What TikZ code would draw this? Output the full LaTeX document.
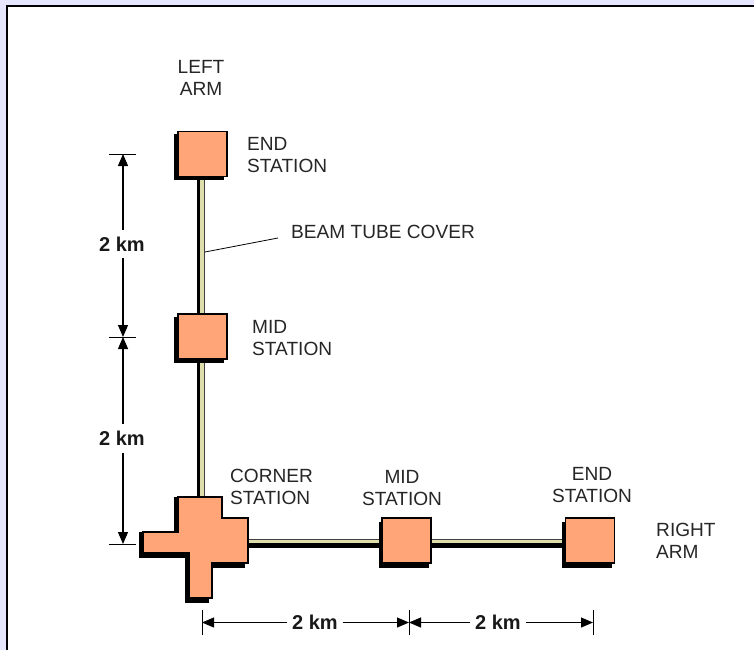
\documentclass[tikz,border=0pt]{standalone}
\usepackage{fontspec}
\setmainfont{Liberation Sans}
\usetikzlibrary{arrows.meta,backgrounds}
\definecolor{pagebg}{RGB}{230,230,255}
\definecolor{salmon}{RGB}{255,165,120}
\definecolor{tube}{RGB}{222,222,170}
\tikzset{
 x=1pt,y=-1pt,
 station/.style={draw=black,line width=1.2pt,fill=salmon,minimum width=49pt,minimum height=45pt,inner sep=0pt,outer sep=0pt},
 shadowbox/.style={fill=black,draw=black,line width=1pt,minimum width=49pt,minimum height=45pt,inner sep=0pt,outer sep=0pt},
 lbl/.style={font=\fontsize{19.1}{22}\selectfont,align=left,text=black!85,inner sep=0pt},
 dimlbl/.style={font=\fontsize{20}{20}\selectfont\bfseries,inner sep=0pt,text=black!90},
 vgap/.style={minimum height=28pt},
 hgap/.style={minimum width=55pt},
 dimline/.style={line width=1.1pt,-{Triangle[length=12pt,width=10pt]}},
 tick/.style={line width=1pt},
 crossoutline/.pic={\path[pic actions] (178,497) -- (222,497) -- (222,518) -- (248,518) -- (248,563) -- (212,563) -- (212,598) -- (189,598) -- (189,553) -- (143,553) -- (143,532) -- (178,532) -- cycle;},
}
\begin{document}
\begin{tikzpicture}
\useasboundingbox (0,0) rectangle (754,650);
\begin{scope}[on background layer]
\fill[pagebg] (0,0) rectangle (754,650);
\fill[white] (6,5) rectangle (754,650);
\draw[black,line width=2pt] (7,650) -- (7,6) -- (754,6);
\end{scope}
% stations
\foreach \n/\cx/\cy/\sx/\sy in {a/202.5/154/-4/3,b/202.5/336.5/-4/3,c/406.5/540.5/-3/4,d/590/540.5/-3/4}{
 \node[shadowbox] at (\cx+\sx,\cy+\sy) {};
 \node[station] (\n) at (\cx,\cy) {};
}
% corner station
\foreach \dy in {0.5,2,4}{
 \pic[fill=black,draw=black,line width=1pt] at (-3.5,\dy) {crossoutline};
}
\pic[fill=salmon,draw=black,line width=1.2pt] at (0,0) {crossoutline};
\coordinate (corner) at (225,530);
% beam tubes, under the stations
\coordinate (vt) at ([xshift=-2.5pt]a.center);
\coordinate (vb) at (vt |- corner);
\coordinate (hl) at (corner |- d.center);
\begin{scope}[on background layer]
 \draw[black,line width=3.5pt] ([xshift=-1.2pt]vt) -- ([xshift=-1.2pt]vb);
 \draw[tube,line width=3.8pt] ([xshift=2.2pt]vt) -- ([xshift=2.2pt]vb);
 \draw[black!75,line width=0.8pt] ([xshift=4.3pt]vt) -- ([xshift=4.3pt]vb);
 \draw[black,line width=4.8pt] ([yshift=-5pt]hl) -- ([yshift=-5pt]d.center);
 \draw[tube,line width=3.8pt] ([yshift=-0.5pt]hl) -- ([yshift=-0.5pt]d.center);
 \draw[black!75,line width=0.8pt] ([yshift=1.6pt]hl) -- ([yshift=1.6pt]d.center);
\end{scope}
% labels
\node[lbl,align=center] (leftarm) at (201,78) {LEFT\\ARM};
\node[lbl,anchor=west] (e1) at (247,155) {END\\STATION};
\node[lbl,anchor=west] (bt) at (291,232) {BEAM TUBE COVER};
\node[lbl,anchor=west] (m1) at (252,338) {MID\\STATION};
\node[lbl,anchor=west] (cs) at (230,487) {CORNER\\STATION};
\node[lbl,align=center] (m2) at (402,488) {MID\\STATION};
\node[lbl,align=center] (e2) at (592,485) {END\\STATION};
\node[lbl,anchor=west] (ra) at (656,541) {RIGHT\\ARM};
\coordinate (btend) at (205,252);
\coordinate (btstart) at (278,238);
\draw[line width=0.8pt] (btend) -- (btstart);
% dimensions
\coordinate (v1) at (123,154); \coordinate (v2) at (123,337); \coordinate (v3) at (123,544);
\coordinate (h1) at (202,622.5); \coordinate (h2) at (409,622.5); \coordinate (h3) at (593,622.5);
\node[dimlbl,vgap] (d1) at (122,244) {2 km};
\node[dimlbl,vgap] (d2) at (122,438.5) {2 km};
\node[dimlbl,hgap] (d3) at (315,622.5) {2 km};
\node[dimlbl,hgap] (d4) at (498,622.5) {2 km};
\foreach \c in {v1,v2,v3}{
 \draw[tick] ([xshift=-14pt]\c) -- ([xshift=13pt]\c);
}
\foreach \c in {h1,h2,h3}{
 \draw[tick] ([yshift=13pt]\c) -- ([yshift=-12pt]\c);
}
\draw[dimline] (d1.north -| v1) -- (v1);
\draw[dimline] (d1.south -| v1) -- (v2);
\draw[dimline] (d2.north -| v2) -- (v2);
\draw[dimline] (d2.south -| v3) -- (v3);
\draw[dimline] (d3.west) -- (h1);
\draw[dimline] (d3.east) -- (h2);
\draw[dimline] (d4.west) -- (h2);
\draw[dimline] (d4.east) -- (h3);
\end{tikzpicture}
\end{document}
